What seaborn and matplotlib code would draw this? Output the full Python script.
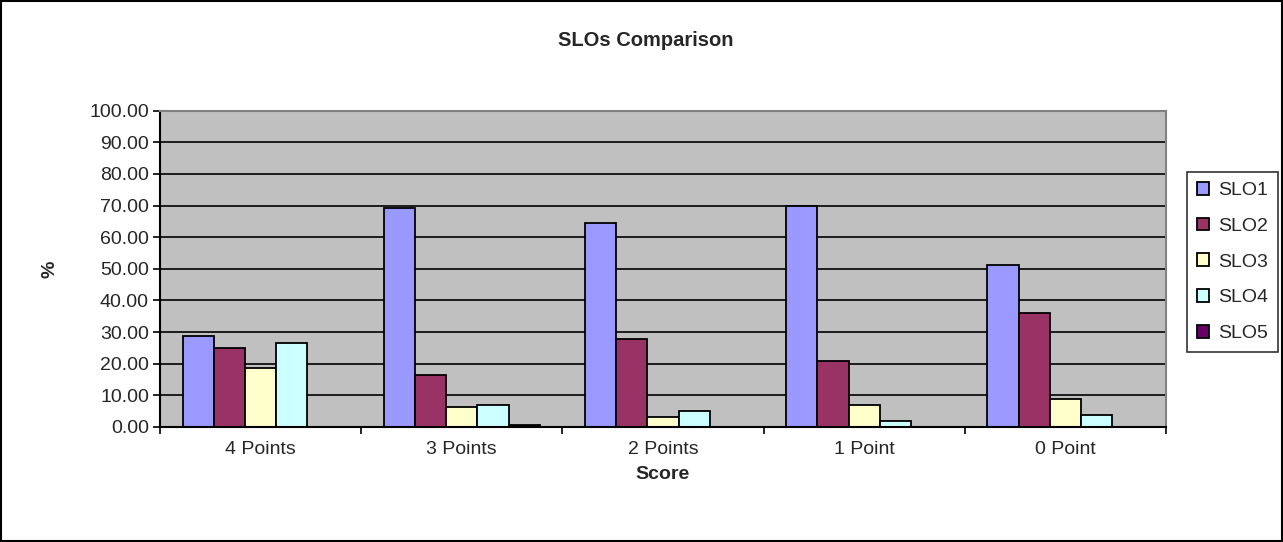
import pandas as pd
import seaborn as sns
import matplotlib.pyplot as plt
from matplotlib.patches import Rectangle

# Values (%)
scores = ["4 Points", "3 Points", "2 Points", "1 Point", "0 Point"]
slo1 = [28.8, 69.3, 64.4, 70.0, 51.1]
slo2 = [25.1, 16.4, 27.8, 20.8, 36.0]
slo3 = [18.8, 6.2, 3.2, 6.9, 8.8]
slo4 = [26.5, 6.9, 5.0, 2.0, 3.8]
slo5 = [0.0, 0.6, 0.0, 0.0, 0.0]
series = ["SLO1", "SLO2", "SLO3", "SLO4", "SLO5"]
colors = ["#9999FF", "#993366", "#FFFFCC", "#CCFFFF", "#660066"]

rows = []
for name, vals in zip(series, [slo1, slo2, slo3, slo4, slo5]):
    for s, v in zip(scores, vals):
        rows.append({"Score": s, "SLO": name, "pct": v})
df = pd.DataFrame(rows)

sns.set_style("white")
plt.rcParams["font.family"] = ["Liberation Sans", "DejaVu Sans"]

fig = plt.figure(figsize=(12.83, 5.42), dpi=100)
ax = fig.add_axes([0.1247, 0.2122, 0.7841, 0.5836])
ax.set_facecolor("#C0C0C0")

sns.barplot(data=df, x="Score", y="pct", hue="SLO", order=scores,
            hue_order=series, palette=colors, saturation=1, width=0.775,
            edgecolor="black", linewidth=1.3, ax=ax, legend=True)

ax.set_ylim(0, 100)
ax.set_xlim(-0.5, 4.5)
ax.set_yticks(range(0, 101, 10))
ax.set_yticklabels([f"{v:.2f}" for v in range(0, 101, 10)], fontsize=14)
ax.yaxis.grid(True, color="black", linewidth=1.2)
ax.set_axisbelow(True)
ax.tick_params(axis="y", length=5, width=1.2, color="black", left=True, pad=3)
ax.tick_params(axis="x", which="major", length=0, labelsize=14, pad=10)
ax.set_xticks([i - 0.5 for i in range(6)], minor=True)
ax.tick_params(axis="x", which="minor", length=5, width=1.2, color="black", bottom=True)

for side in ["left", "bottom"]:
    ax.spines[side].set_color("black")
    ax.spines[side].set_linewidth(1.5)
for side in ["top", "right"]:
    ax.spines[side].set_color("#808080")
    ax.spines[side].set_linewidth(1.5)

ax.set_xlabel("Score", fontsize=14, fontweight="bold", labelpad=6)
ax.set_ylabel("%", fontsize=14, fontweight="bold", labelpad=22)
fig.text(0.503, 0.925, "SLOs Comparison", ha="center", va="center",
         fontsize=14.5, fontweight="bold")

handles, labels = ax.get_legend_handles_labels()
ax.legend(handles, labels, loc="upper left",
          bbox_to_anchor=(1187 / 1283, 1 - 172 / 542),
          bbox_transform=fig.transFigure, frameon=True, fancybox=False,
          edgecolor="black", fontsize=14, handlelength=0.65, handleheight=0.65,
          handletextpad=0.45, labelspacing=0.95, borderpad=0.5,
          borderaxespad=0)
ax.get_legend().get_frame().set_linewidth(1.2)

fig.patches.append(Rectangle((0.001, 0.002), 0.998, 0.996, transform=fig.transFigure,
                             fill=False, edgecolor="black", linewidth=1.5))

fig.savefig("out.png", dpi=100)
